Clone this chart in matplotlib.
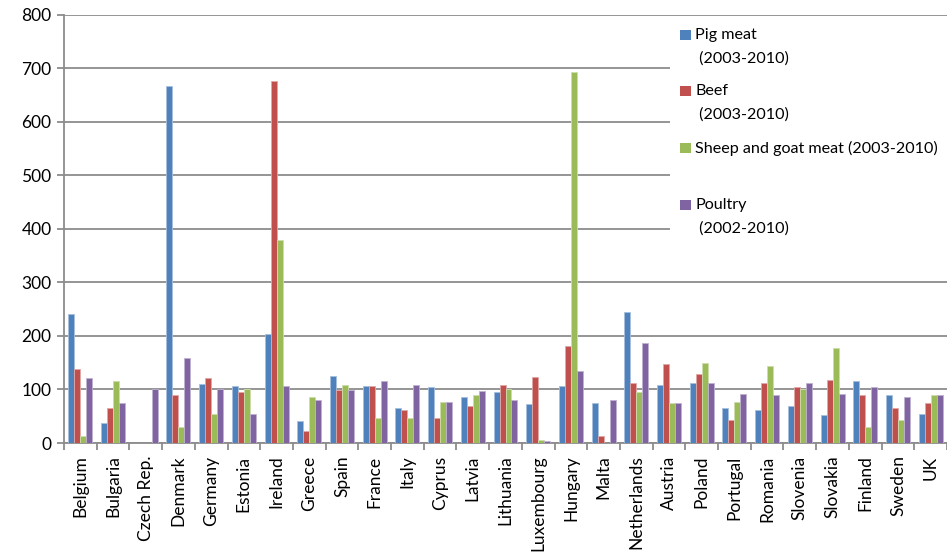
import matplotlib.pyplot as plt
import numpy as np
from matplotlib.patches import Rectangle

plt.rcParams['font.family'] = ['Lato', 'DejaVu Sans']

countries = ['Belgium', 'Bulgaria', 'Czech Rep.', 'Denmark', 'Germany', 'Estonia',
             'Ireland', 'Greece', 'Spain', 'France', 'Italy', 'Cyprus', 'Latvia',
             'Lithuania', 'Luxembourg', 'Hungary', 'Malta', 'Netherlands', 'Austria',
             'Poland', 'Portugal', 'Romania', 'Slovenia', 'Slovakia', 'Finland',
             'Sweden', 'UK']

nan = np.nan
pig = [241, 38, nan, 666, 110, 106, 204, 41, 126, 106, 66, 104, 86, 95, 72, 106, 74,
       244, 109, 112, 66, 61, 69, 52, 115, 89, 55]
beef = [138, 66, nan, 89, 121, 95, 675, 23, 99, 106, 61, 46, 69, 109, 124, 181, 14,
        112, 147, 129, 43, 112, 104, 118, 89, 66, 74]
sheep = [14, 115, nan, 29, 55, 100, 379, 86, 109, 46, 46, 77, 89, 100, 6, 693, nan,
         95, 74, 149, 77, 144, 100, 178, 29, 43, 89]
poultry = [121, 75, 100, 158, 100, 55, 106, 81, 99, 115, 109, 77, 98, 81, 3, 135, 81,
           187, 74, 112, 92, 89, 112, 92, 104, 86, 89]

series = [pig, beef, sheep, poultry]
legend_lines = [['Pig meat', ' (2003-2010)'],
                ['Beef', ' (2003-2010)'],
                ['Sheep and goat meat (2003-2010)'],
                ['Poultry', ' (2002-2010)']]
colors = ['#4F81BD', '#C0504D', '#9BBB59', '#8064A2']
edges = ['#A7C0DE', '#DFA8A6', '#CDDDAC', '#BFB1D0']

W, H = 947, 560
fig = plt.figure(figsize=(W / 100, H / 100), dpi=100)
ax = fig.add_axes([64 / W, 1 - 443 / H, (947 - 64) / W, (443 - 14.5) / H])

x = np.arange(len(countries))
bw = 0.183
for i, vals in enumerate(series):
    ax.bar(x + (i - 1.5) * bw, vals, bw, color=colors[i], edgecolor=edges[i],
           linewidth=0.6, zorder=3)

grid_c = '#8C8C8C'
ax.set_ylim(0, 800)
ax.set_xlim(-0.5, len(countries) - 0.5)
ax.set_yticks(range(0, 801, 100))
ax.yaxis.grid(True, color=grid_c, linewidth=1.3, zorder=0)
ax.set_xticks(x)
ax.set_xticklabels(countries, rotation=90, fontsize=12.5)
ax.set_xticks(np.arange(-0.5, len(countries)), minor=True)
ax.tick_params(axis='x', which='major', length=0, pad=9)
ax.tick_params(axis='x', which='minor', length=5, color=grid_c, width=1.3)
ax.tick_params(axis='y', length=5, color=grid_c, width=1.3, labelsize=12.5, pad=4)
for s in ['top', 'right']:
    ax.spines[s].set_visible(False)
for s in ['left', 'bottom']:
    ax.spines[s].set_color(grid_c)
    ax.spines[s].set_linewidth(1.3)

# legend drawn by hand on a white panel over the grid
def fx(px):
    return px / W

def fy(py):
    return 1 - py / H

fig.patches.append(Rectangle((fx(670), fy(246)), fx(947) - fx(670), (246 - 17) / H,
                             transform=fig.transFigure, facecolor='white',
                             edgecolor='none', zorder=5))
first_y = [35, 91, 148, 205]
for i, lines in enumerate(legend_lines):
    y0 = first_y[i]
    fig.patches.append(Rectangle((fx(680), fy(y0 + 5)), 11 / W, 10 / H,
                                 transform=fig.transFigure, facecolor=colors[i],
                                 edgecolor='none', zorder=6))
    for j, line in enumerate(lines):
        fig.text(fx(695), fy(y0 + 24 * j), line, fontsize=11.6, va='center',
                 ha='left', zorder=7)

fig.savefig('out.png', dpi=100)
